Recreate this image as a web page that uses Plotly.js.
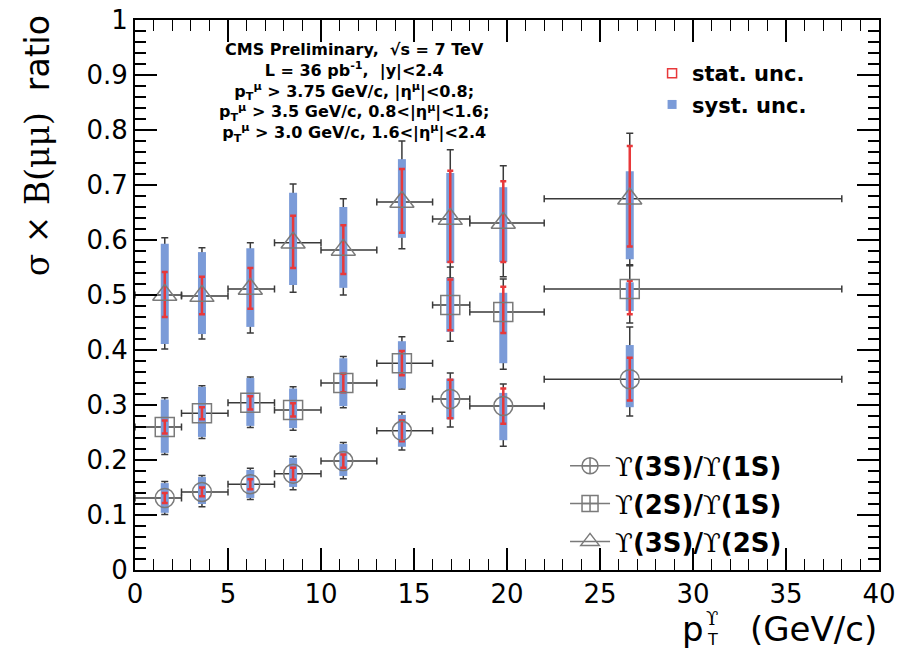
<!DOCTYPE html>
<html>
<head>
<meta charset="utf-8">
<script src="https://cdn.plot.ly/plotly-3.0.1.min.js"></script>
<style>
  html, body { margin: 0; padding: 0; background: #fff; }
  #plot { width: 902px; height: 649px; }
</style>
</head>
<body>
<div id="plot"></div>
<script>
// pT bins (GeV/c) and mean pT of each bin
const binLo = [0, 2.5, 5, 7.5, 10, 13, 16, 18, 22];
const binHi = [2.5, 5, 7.5, 10, 13, 16, 18, 22, 38];
const ptMean = [1.6, 3.6, 6.2, 8.5, 11.2, 14.35, 16.95, 19.8, 26.6];

// Y(3S)/Y(1S)
const r31 = [0.131, 0.142, 0.156, 0.175, 0.198, 0.253, 0.311, 0.298, 0.347];
const r31StatUp = [0.009, 0.008, 0.009, 0.011, 0.012, 0.019, 0.035, 0.032, 0.039];
const r31StatDn = [0.009, 0.008, 0.009, 0.011, 0.012, 0.019, 0.035, 0.032, 0.039];
const r31SystUp = [0.027, 0.027, 0.026, 0.029, 0.031, 0.029, 0.037, 0.024, 0.062];
const r31SystDn = [0.027, 0.022, 0.025, 0.024, 0.027, 0.029, 0.037, 0.062, 0.051];
const r31TotUp = [0.030, 0.030, 0.029, 0.032, 0.034, 0.034, 0.047, 0.040, 0.095];
const r31TotDn = [0.030, 0.027, 0.028, 0.029, 0.032, 0.035, 0.051, 0.073, 0.067];

// Y(2S)/Y(1S)
const r21 = [0.260, 0.285, 0.304, 0.291, 0.340, 0.376, 0.482, 0.469, 0.511];
const r21StatUp = [0.012, 0.011, 0.012, 0.012, 0.017, 0.022, 0.046, 0.046, 0.015];
const r21StatDn = [0.012, 0.011, 0.012, 0.012, 0.017, 0.022, 0.046, 0.038, 0.046];
const r21SystUp = [0.050, 0.048, 0.045, 0.039, 0.045, 0.040, 0.049, 0.035, 0.012];
const r21SystDn = [0.047, 0.043, 0.042, 0.033, 0.042, 0.046, 0.049, 0.093, 0.040];
const r21TotUp = [0.053, 0.050, 0.047, 0.042, 0.048, 0.048, 0.069, 0.060, 0.042];
const r21TotDn = [0.050, 0.046, 0.045, 0.037, 0.045, 0.047, 0.066, 0.104, 0.062];

// Y(3S)/Y(2S)
const r32 = [0.500, 0.498, 0.511, 0.595, 0.582, 0.669, 0.638, 0.631, 0.675];
const r32StatUp = [0.042, 0.035, 0.038, 0.049, 0.045, 0.060, 0.088, 0.076, 0.096];
const r32StatDn = [0.040, 0.033, 0.036, 0.046, 0.044, 0.056, 0.078, 0.071, 0.087];
const r32SystUp = [0.093, 0.080, 0.074, 0.091, 0.078, 0.078, 0.084, 0.065, 0.050];
const r32SystDn = [0.089, 0.069, 0.069, 0.077, 0.069, 0.065, 0.080, 0.071, 0.110];
const r32TotUp = [0.104, 0.088, 0.084, 0.107, 0.093, 0.111, 0.126, 0.104, 0.119];
const r32TotDn = [0.098, 0.078, 0.080, 0.090, 0.082, 0.085, 0.107, 0.098, 0.120];

const seriesNames = ['ϒ(3S)/ϒ(1S)', 'ϒ(2S)/ϒ(1S)', 'ϒ(3S)/ϒ(2S)'];
const statLabel = 'stat. unc.';
const systLabel = 'syst. unc.';

const COL_SYST = '#7b9bd8';
const COL_STAT = '#e8383a';
const COL_TOT = '#3a3a3a';
const COL_MARK = '#7a7a7a';

const SANS = 'DejaVu Sans, Liberation Sans, Arial, sans-serif';
const SERIF = 'DejaVu Serif, Liberation Serif, serif';

const xPlus = ptMean.map((m, i) => binHi[i] - m);
const xMinus = ptMean.map((m, i) => m - binLo[i]);

function errBars(up, dn, color, thickness, width) {
  return { type: 'data', symmetric: false, array: up, arrayminus: dn,
           color: color, thickness: thickness, width: width };
}

const series = [
  { y: r31, su: r31StatUp, sd: r31StatDn, yu: r31SystUp, yd: r31SystDn, tu: r31TotUp, td: r31TotDn, sym: 'circle-open', size: 19 },
  { y: r21, su: r21StatUp, sd: r21StatDn, yu: r21SystUp, yd: r21SystDn, tu: r21TotUp, td: r21TotDn, sym: 'square-open', size: 19 },
  { y: r32, su: r32StatUp, sd: r32StatDn, yu: r32SystUp, yd: r32SystDn, tu: r32TotUp, td: r32TotDn, sym: 'triangle-up-open', size: 21 }
];

const traces = [];
const hidden = { size: 1, opacity: 0 };

// total uncertainty and bin width (black)
series.forEach(s => traces.push({
  x: ptMean, y: s.y, type: 'scatter', mode: 'markers', marker: hidden, showlegend: false,
  error_y: errBars(s.tu, s.td, COL_TOT, 1.5, 3.5),
  error_x: { type: 'data', symmetric: false, array: xPlus, arrayminus: xMinus,
             color: COL_TOT, thickness: 1.5, width: 3.5 }
}));
// systematic uncertainty (blue band)
series.forEach(s => traces.push({
  x: ptMean, y: s.y, type: 'scatter', mode: 'markers', marker: hidden, showlegend: false,
  error_y: errBars(s.yu, s.yd, COL_SYST, 8, 0)
}));
// statistical uncertainty (red)
series.forEach(s => traces.push({
  x: ptMean, y: s.y, type: 'scatter', mode: 'markers', marker: hidden, showlegend: false,
  error_y: errBars(s.su, s.sd, COL_STAT, 2.5, 3)
}));
// open markers
series.forEach(s => traces.push({
  x: ptMean, y: s.y, type: 'scatter', mode: 'markers', showlegend: false,
  marker: { symbol: s.sym, size: s.size, color: COL_MARK, line: { width: 1.5, color: COL_MARK } }
}));

// legend entries: uncertainty styles
traces.push({ x: [null], y: [null], type: 'scatter', mode: 'markers', name: '<b>' + statLabel + '</b>',
  legend: 'legend', legendgroup: 'a',
  marker: { symbol: 'square-open', size: 9, color: COL_STAT, line: { width: 1.5, color: COL_STAT } } });
traces.push({ x: [null], y: [null], type: 'scatter', mode: 'markers', name: '<b>' + systLabel + '</b>',
  legend: 'legend', legendgroup: 'b',
  marker: { symbol: 'square', size: 9, color: COL_SYST } });

// legend entries: ratios
const legSyms = ['circle-cross-open', 'square-cross-open', 'triangle-up-open'];
function serifUps(t) {
  return t.replace(/ϒ/g, '<span style="font-family:\'DejaVu Serif\';font-weight:normal">ϒ</span>');
}
seriesNames.forEach((n, i) => traces.push({
  x: [null], y: [null], type: 'scatter', mode: 'lines+markers', name: '<b>' + serifUps(n) + '</b>',
  legend: 'legend2', legendgroup: 'r' + i,
  line: { color: COL_MARK, width: 1.5 },
  marker: { symbol: legSyms[i], size: 16, color: COL_MARK, line: { width: 1.5, color: COL_MARK } }
}));

const tickFont = { family: SANS, size: 26, color: '#000' };

const infoLines = [
  '<b>CMS Preliminary,  √s = 7 TeV</b>',
  '<b>L = 36 pb<sup>-1</sup>,  |y|&lt;2.4</b>',
  '<b>p<sub>T</sub><sup>μ</sup> &gt; 3.75 GeV/c, |η<sup>μ</sup>|&lt;0.8;</b>',
  '<b>p<sub>T</sub><sup>μ</sup> &gt; 3.5 GeV/c, 0.8&lt;|η<sup>μ</sup>|&lt;1.6;</b>',
  '<b>p<sub>T</sub><sup>μ</sup> &gt; 3.0 GeV/c, 1.6&lt;|η<sup>μ</sup>|&lt;2.4</b>'
];

const annotations = [{
  text: infoLines.join('<br>'), x: 11.8, y: 0.968, xref: 'x', yref: 'y', showarrow: false,
  xanchor: 'center', yanchor: 'top', align: 'center',
  font: { family: SANS, size: 16, color: '#000' }
}];

// y-axis title, aligned to the top end of the axis
annotations.push({
  text: '<span style="font-family:\'DejaVu Serif\'">σ × B(μμ)</span>  ratio',
  xref: 'paper', yref: 'paper', x: -0.13, y: 1.012, xanchor: 'center', yanchor: 'top',
  textangle: -90, showarrow: false,
  font: { family: SANS, size: 33, color: '#000' }
});

// x-axis title, aligned to the right end; pT with stacked T and Upsilon indices
const titleFont = { family: SANS, size: 34, color: '#000' };
const titleTop = -0.0675;
const pRight = 0.768;
annotations.push({
  text: '(GeV/c)', xref: 'paper', yref: 'paper', x: 1.0, y: titleTop,
  xanchor: 'right', yanchor: 'top', showarrow: false, font: titleFont
});
annotations.push({
  text: 'p', xref: 'paper', yref: 'paper', x: pRight, y: titleTop,
  xanchor: 'right', yanchor: 'top', showarrow: false, font: titleFont
});
annotations.push({
  text: 'ϒ', xref: 'paper', yref: 'paper', x: pRight - 0.002, y: titleTop,
  xanchor: 'left', yanchor: 'top', showarrow: false, borderpad: 0,
  font: { family: SERIF, size: 18, color: '#000' }
});
annotations.push({
  text: 'T', xref: 'paper', yref: 'paper', x: pRight - 0.001, y: -0.1075,
  xanchor: 'left', yanchor: 'top', showarrow: false, borderpad: 0,
  font: { family: SANS, size: 16, color: '#000' }
});

const axisCommon = {
  showgrid: false, zeroline: false, showline: true, linecolor: '#000', linewidth: 2,
  mirror: 'allticks', ticks: 'inside', tickcolor: '#000', tickwidth: 1.3,
  tickfont: tickFont
};

const layout = {
  width: 902, height: 649,
  margin: { l: 135, r: 23, t: 20, b: 79 },
  paper_bgcolor: '#fff', plot_bgcolor: '#fff',
  showlegend: true,
  xaxis: Object.assign({}, axisCommon, {
    range: [0, 40], dtick: 5, tick0: 0, ticklen: 22,
    minor: { dtick: 1, ticklen: 11, ticks: 'inside', tickcolor: '#000', tickwidth: 1.1 }
  }),
  yaxis: Object.assign({}, axisCommon, {
    range: [0, 1], dtick: 0.1, tick0: 0, ticklen: 22,
    minor: { dtick: 0.02, ticklen: 11, ticks: 'inside', tickcolor: '#000', tickwidth: 1.1 }
  }),
  legend: {
    x: 0.695, y: 0.94, xanchor: 'left', yanchor: 'top',
    bgcolor: 'rgba(0,0,0,0)', borderwidth: 0, itemwidth: 30,
    traceorder: 'grouped', tracegroupgap: 1,
    font: { family: SANS, size: 21, color: '#000' }
  },
  legend2: {
    x: 0.578, y: 0.232, xanchor: 'left', yanchor: 'top',
    bgcolor: 'rgba(0,0,0,0)', borderwidth: 0, itemwidth: 40,
    traceorder: 'grouped', tracegroupgap: 1,
    font: { family: SANS, size: 26, color: '#000' }
  },
  annotations: annotations
};

Plotly.newPlot('plot', traces, layout, { staticPlot: true, displayModeBar: false });
</script>
</body>
</html>
